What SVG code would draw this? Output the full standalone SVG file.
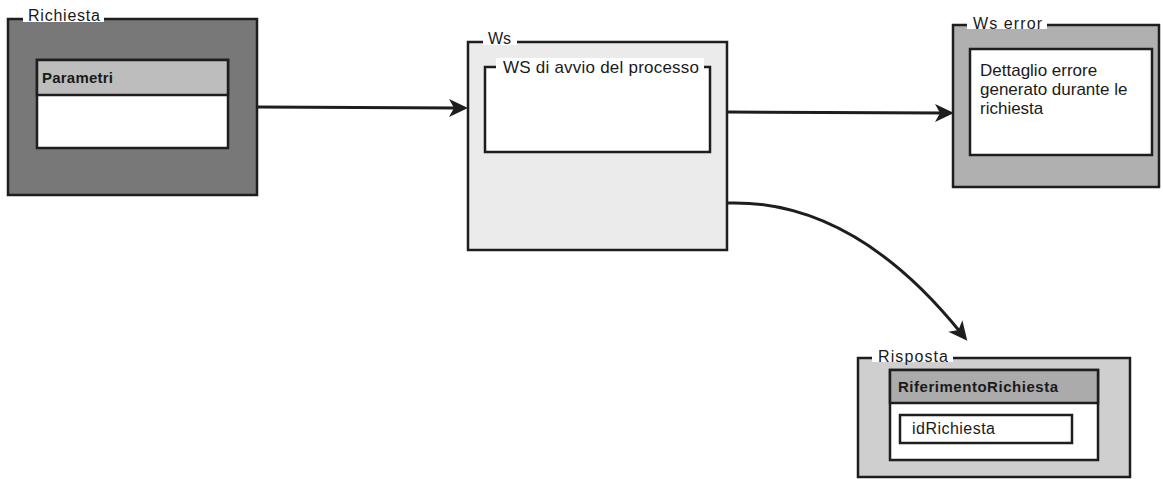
<svg xmlns="http://www.w3.org/2000/svg" width="1163" height="479" viewBox="0 0 1163 479">
<defs>
<style>
.box{stroke:#1e1e1e;stroke-width:2.5}
.t{font-family:"Liberation Sans",Arial,sans-serif;font-size:16px;fill:#1a1a1a}
.m{font-family:"Liberation Sans",Arial,sans-serif;font-size:17px;fill:#1a1a1a}
.b{font-family:"Liberation Sans",Arial,sans-serif;font-size:15px;font-weight:bold;fill:#1a1a1a}
.gap{fill:#ffffff}
.conn{fill:none;stroke:#1e1e1e;stroke-width:3}
</style>
<marker id="arr" markerUnits="userSpaceOnUse" markerWidth="20" markerHeight="20" viewBox="0 0 20 20" refX="9" refY="10" orient="auto">
<path d="M0,1 L19,10 L0,19 L5,10 z" fill="#1e1e1e"/>
</marker>
</defs>
<rect width="1163" height="479" fill="#ffffff"/>

<g id="richiesta">
<rect class="box" x="8" y="19" width="249" height="176" fill="#787878"/>
<rect class="gap" x="23" y="8" width="81" height="14"/>
<text class="t" x="28" y="21" textLength="72">Richiesta</text>
<rect class="box" x="37" y="60" width="191" height="88" fill="#ffffff"/>
<rect class="box" x="37" y="60" width="191" height="35" fill="#bdbdbd"/>
<text class="b" x="42" y="83" textLength="71">Parametri</text>
</g>

<g id="ws">
<rect class="box" x="468" y="42" width="259" height="208" fill="#ebebeb"/>
<rect class="gap" x="483" y="31" width="34" height="14"/>
<text class="t" x="488" y="44">Ws</text>
<rect class="box" x="485" y="67" width="225" height="85" fill="#ffffff"/>
<rect class="gap" x="496" y="58" width="208" height="14"/>
<text class="m" x="503" y="73" textLength="196">WS di avvio del processo</text>
</g>

<g id="ws-error">
<rect class="box" x="953" y="25" width="206" height="162" fill="#b0b0b0"/>
<rect class="gap" x="967" y="15" width="80" height="14"/>
<text class="t" x="973" y="29" textLength="69">Ws error</text>
<rect class="box" x="970" y="49" width="182" height="106" fill="#ffffff"/>
<text class="m" x="980" y="76">Dettaglio errore</text>
<text class="m" x="980" y="95">generato durante le</text>
<text class="m" x="980" y="114">richiesta</text>
</g>

<g id="risposta">
<rect class="box" x="858" y="358" width="272" height="119" fill="#cfcfcf"/>
<rect class="gap" x="872" y="348" width="81" height="14"/>
<text class="t" x="878" y="362" textLength="70">Risposta</text>
<rect class="box" x="890" y="370" width="208" height="90" fill="#ffffff"/>
<rect class="box" x="890" y="370" width="208" height="33" fill="#ababab"/>
<text class="b" x="898" y="392" textLength="160">RiferimentoRichiesta</text>
<rect class="box" x="900" y="415" width="172" height="28" fill="#ffffff"/>
<text class="t" x="912" y="434" textLength="83">idRichiesta</text>
</g>

<g id="connectors">
<path class="conn" d="M258,107 L458,108" marker-end="url(#arr)"/>
<path class="conn" d="M727,112 L944,113" marker-end="url(#arr)"/>
<path class="conn" d="M727,203 Q853,199 961,333" marker-end="url(#arr)"/>
</g>
</svg>
